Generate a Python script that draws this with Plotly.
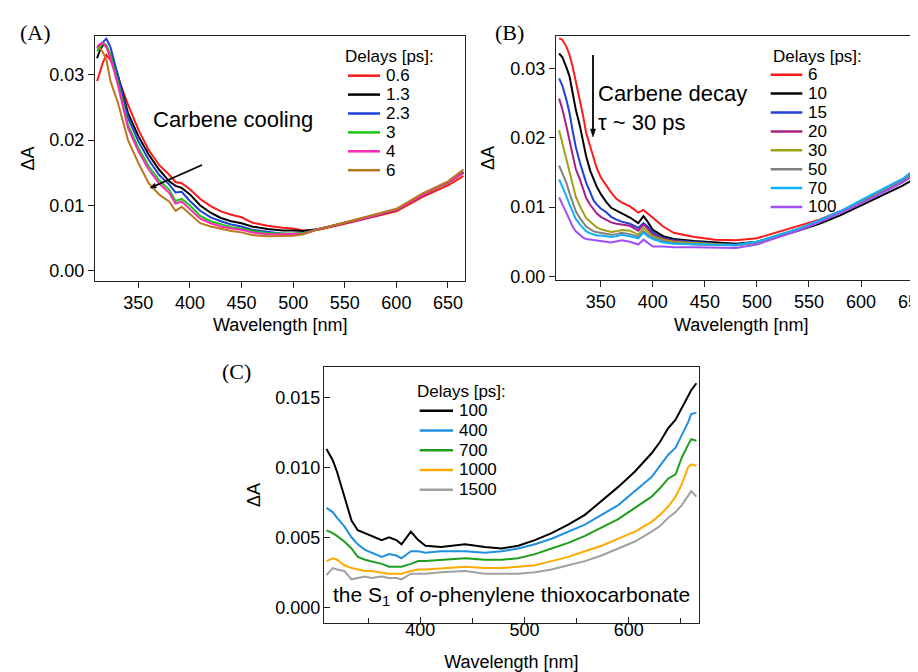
import math
import plotly.graph_objects as go

W, H = 918, 672
SANS = "Liberation Sans, Arial, sans-serif"
SERIF = "Liberation Serif, Times New Roman, serif"

# ---------------- Panel A data ----------------
wl_a = [310, 313, 316, 319, 323, 330, 340, 350, 360, 370, 380, 386, 392, 400, 410, 420,
        430, 440, 450, 460, 475, 490, 500, 510, 525, 550, 575, 600, 625, 640, 650, 665]
delays_a = ["0.6", "1.3", "2.3", "3", "4", "6"]
colors_a = ["#ff1a1a", "#000000", "#2040d8", "#14c814", "#ff28b4", "#b8781e"]
a_0p6 = [.0290, .0305, .0320, .0330, .0322, .0297, .0254, .0216, .0185, .0162, .0147, .0136, .0134, .0125, .0110, .0099,
         .0091, .0086, .0082, .0074, .0069, .0066, .0065, .0062, .0063, .0072, .0081, .0091, .0113, .0124, .0131, .0145]
a_1p3 = [.0325, .0338, .0346, .0343, .0330, .0300, .0241, .0206, .0178, .0155, .0137, .0130, .0127, .0117, .0100, .0089,
         .0081, .0076, .0073, .0068, .0064, .0062, .0062, .0061, .0064, .0073, .0083, .0094, .0116, .0128, .0135, .0151]
a_2p3 = [.0340, .0346, .0350, .0355, .0342, .0300, .0234, .0198, .0170, .0147, .0132, .0120, .0121, .0107, .0092, .0082,
         .0076, .0071, .0068, .0063, .0060, .0057, .0057, .0058, .0064, .0073, .0083, .0094, .0116, .0128, .0135, .0150]
a_3 = [.0336, .0343, .0348, .0345, .0330, .0290, .0223, .0188, .0160, .0139, .0124, .0107, .0110, .0100, .0084, .0076,
       .0071, .0067, .0065, .0061, .0058, .0057, .0057, .0058, .0064, .0073, .0083, .0094, .0116, .0128, .0135, .0150]
a_4 = [.0343, .0347, .0348, .0342, .0325, .0285, .0218, .0183, .0155, .0134, .0119, .0103, .0106, .0095, .0080, .0073,
       .0068, .0065, .0063, .0059, .0056, .0056, .0056, .0057, .0064, .0073, .0083, .0094, .0116, .0128, .0135, .0150]
a_6 = [.0342, .0340, .0333, .0323, .0290, .0258, .0200, .0165, .0134, .0117, .0106, .0092, .0098, .0087, .0073, .0068,
       .0064, .0061, .0059, .0055, .0053, .0053, .0054, .0056, .0064, .0074, .0084, .0095, .0118, .0130, .0137, .0155]
series_a = [a_0p6, a_1p3, a_2p3, a_3, a_4, a_6]

# ---------------- Panel B data ----------------
wl_b = [310, 313, 317, 320, 323, 326, 330, 333, 336, 340, 343, 346, 350, 355, 360, 365, 370, 378, 386, 391,
        395, 400, 410, 420, 440, 460, 480, 500, 520, 540, 560, 580, 600, 620, 640, 650, 662]
delays_b = ["6", "10", "15", "20", "30", "50", "70", "100"]
colors_b = ["#ff1a1a", "#000000", "#2040d8", "#a8207f", "#a0a014", "#808080", "#10b0f8", "#a050f0"]
b_6 = [.0344, .0342, .0332, .0320, .0303, .0282, .0255, .0232, .0207, .0187, .0170, .0157, .0143, .0131, .0121, .0112, .0107, .0101, .0092, .0096,
       .0091, .0084, .0072, .0063, .0057, .0053, .0052, .0055, .0064, .0072, .0082, .0094, .0108, .0123, .0139, .0150, .0160]
b_10 = [.0322, .0317, .0302, .0289, .0265, .0241, .0217, .0193, .0173, .0152, .0140, .0130, .0119, .0108, .0099, .0095, .0091, .0085, .0077, .0087,
        .0079, .0067, .0058, .0054, .0051, .0049, .0047, .0050, .0057, .0066, .0076, .0088, .0102, .0117, .0131, .0140, .0150]
b_15 = [.0286, .0276, .0255, .0236, .0210, .0187, .0164, .0148, .0135, .0121, .0110, .0104, .0098, .0093, .0086, .0082, .0079, .0076, .0070, .0077,
        .0072, .0063, .0055, .0052, .0049, .0047, .0046, .0050, .0058, .0068, .0079, .0092, .0106, .0121, .0136, .0146, .0160]
b_20 = [.0257, .0242, .0217, .0195, .0173, .0155, .0140, .0125, .0113, .0103, .0096, .0091, .0086, .0082, .0078, .0076, .0075, .0073, .0066, .0075,
        .0069, .0060, .0054, .0051, .0048, .0046, .0045, .0049, .0058, .0068, .0079, .0092, .0106, .0121, .0136, .0146, .0162]
b_30 = [.0211, .0193, .0169, .0150, .0130, .0115, .0101, .0092, .0084, .0079, .0075, .0071, .0068, .0066, .0064, .0065, .0067, .0066, .0060, .0070,
        .0064, .0058, .0053, .0050, .0048, .0046, .0045, .0050, .0059, .0069, .0080, .0093, .0108, .0123, .0139, .0150, .0165]
b_50 = [.0160, .0150, .0135, .0120, .0106, .0094, .0084, .0077, .0072, .0068, .0065, .0064, .0063, .0062, .0060, .0061, .0063, .0061, .0057, .0065,
        .0060, .0055, .0051, .0048, .0046, .0045, .0045, .0049, .0058, .0068, .0079, .0093, .0108, .0123, .0139, .0150, .0166]
b_70 = [.0140, .0130, .0116, .0104, .0092, .0083, .0075, .0070, .0065, .0062, .0060, .0059, .0059, .0058, .0057, .0058, .0060, .0058, .0055, .0063,
        .0058, .0054, .0049, .0047, .0046, .0045, .0045, .0050, .0059, .0069, .0081, .0094, .0110, .0125, .0141, .0153, .0169]
b_100 = [.0114, .0105, .0092, .0082, .0072, .0065, .0060, .0056, .0054, .0053, .0052, .0052, .0051, .0050, .0049, .0050, .0052, .0050, .0046, .0053,
         .0049, .0043, .0043, .0042, .0042, .0041, .0041, .0046, .0056, .0066, .0078, .0091, .0105, .0120, .0136, .0146, .0162]
series_b = [b_6, b_10, b_15, b_20, b_30, b_50, b_70, b_100]

# ---------------- Panel C data ----------------
wl_c = [310, 316, 320, 327, 334, 340, 347, 353, 363, 370, 377, 382, 391, 398, 405, 420, 443, 462,
        478, 494, 510, 526, 542, 558, 574, 590, 606, 622, 630, 638, 645, 651, 657, 660, 665]
delays_c = ["100", "400", "700", "1000", "1500"]
colors_c = ["#000000", "#1f8fe0", "#1e9e1e", "#ffaa00", "#a0a0a0"]
c_100 = [.0113, .0105, .0097, .0080, .0062, .0055, .0053, .0051, .0048, .0050, .0048, .0045, .0054, .0048, .0044, .0043, .0045, .0043,
         .0042, .0044, .0048, .0053, .0059, .0066, .0076, .0086, .0097, .0110, .0118, .0128, .0134, .0142, .0150, .0155, .0160]
c_400 = [.0071, .0068, .0064, .0058, .0050, .0045, .0041, .0039, .0036, .0038, .0037, .0035, .0040, .0040, .0039, .0040, .0040, .0039,
         .0040, .0042, .0045, .0049, .0054, .0059, .0066, .0073, .0083, .0093, .0101, .0109, .0114, .0123, .0132, .0138, .0139]
c_700 = [.0055, .0053, .0051, .0047, .0042, .0036, .0034, .0033, .0031, .0029, .0029, .0029, .0031, .0033, .0033, .0034, .0035, .0034,
         .0034, .0035, .0038, .0042, .0046, .0051, .0057, .0063, .0071, .0079, .0085, .0092, .0095, .0107, .0116, .0120, .0119]
c_1000 = [.0033, .0035, .0034, .0030, .0028, .0027, .0026, .0026, .0025, .0024, .0024, .0024, .0026, .0027, .0027, .0028, .0029, .0028,
          .0028, .0029, .0030, .0033, .0036, .0040, .0044, .0049, .0054, .0061, .0066, .0072, .0079, .0088, .0100, .0102, .0101]
c_1500 = [.0023, .0028, .0027, .0026, .0020, .0021, .0022, .0021, .0022, .0021, .0021, .0020, .0024, .0024, .0024, .0025, .0026, .0024,
          .0024, .0024, .0025, .0027, .0030, .0033, .0037, .0042, .0047, .0054, .0058, .0064, .0068, .0073, .0080, .0083, .0079]
series_c = [c_100, c_400, c_700, c_1000, c_1500]

x_title = "Wavelength [nm]"
y_title = "ΔA"


# ---------------- helpers ----------------
def px(x):
    return x / W


def py(y):
    return 1 - y / H


fig = go.Figure()

for vals, name, col in zip(series_a, delays_a, colors_a):
    fig.add_trace(go.Scatter(x=wl_a, y=vals, mode="lines", name=name, showlegend=False,
                             line=dict(color=col, width=2), xaxis="x", yaxis="y"))
for vals, name, col in zip(series_b, delays_b, colors_b):
    fig.add_trace(go.Scatter(x=wl_b, y=vals, mode="lines", name=name, showlegend=False,
                             line=dict(color=col, width=2), xaxis="x2", yaxis="y2"))
for vals, name, col in zip(series_c, delays_c, colors_c):
    fig.add_trace(go.Scatter(x=wl_c, y=vals, mode="lines", name=name, showlegend=False,
                             line=dict(color=col, width=2), xaxis="x3", yaxis="y3"))

AX = dict(showline=True, linecolor="#222222", linewidth=1.2, showgrid=False, zeroline=False,
          tickfont=dict(family=SANS, size=18, color="black"), ticklen=6, tickcolor="#222222",
          automargin=False, ticklabeloverflow="allow")
TITLEFONT = dict(family=SANS, size=18, color="black")

layout = dict(
    width=W, height=H, margin=dict(l=0, r=0, t=0, b=0),
    paper_bgcolor="white", plot_bgcolor="white", template="none",
    xaxis=dict(AX, domain=[px(87), px(457)], range=[308, 666.5], anchor="y", mirror=True,
               ticks="outside", tick0=350, dtick=50, ticklabelstandoff=-1),
    yaxis=dict(AX, domain=[py(273), py(28)], range=[-0.00153, 0.0359], anchor="x", mirror=True,
               ticks="outside", tick0=0, dtick=0.01, tickformat=".2f",
               title=dict(text=y_title, font=TITLEFONT, standoff=9)),
    xaxis2=dict(AX, domain=[px(548), 1.0], range=[307, 662.4], anchor="y2", mirror=True,
                ticks="outside", tick0=350, dtick=50, ticklabelstandoff=-1),
    yaxis2=dict(AX, domain=[py(272), py(28)], range=[-0.00053, 0.03473], anchor="x2", mirror=False,
                ticks="outside", tick0=0, dtick=0.01, tickformat=".2f",
                title=dict(text=y_title, font=TITLEFONT, standoff=10)),
    xaxis3=dict(AX, domain=[px(316), px(690.7)], range=[307.6, 667.2], anchor="y3", mirror=True,
                ticks="inside", tick0=400, dtick=100, ticklabelstandoff=-10,
                minor=dict(ticks="inside", ticklen=5, tick0=350, dtick=50, tickcolor="#222222"),
                title=dict(text=x_title, font=TITLEFONT, standoff=16)),
    yaxis3=dict(AX, domain=[py(615), py(359)], range=[-0.00112, 0.01716], anchor="x3", mirror=True,
                ticks="inside", tick0=0, dtick=0.005, tickformat=".3f", ticklabelstandoff=-1,
                title=dict(text=y_title, font=TITLEFONT, standoff=9)),
)
fig.update_layout(**layout)

annotations = []
shapes = []

# x-axis titles of panels A and B (placed precisely under the tick labels)
for cx in (272, 733):
    annotations.append(dict(text=x_title, x=px(cx), y=py(317), xref="paper", yref="paper",
                            xanchor="center", yanchor="middle", showarrow=False, font=TITLEFONT))

# panel labels
for lab, x, y in [("(A)", 10, 25), ("(B)", 485, 25), ("(C)", 212, 363)]:
    annotations.append(dict(text=lab, x=px(x), y=py(y), xref="paper", yref="paper",
                            xanchor="left", yanchor="middle", showarrow=False,
                            font=dict(family=SERIF, size=22, color="black")))

# legends (title, line keys and labels) built from the series lists
LEGFONT = dict(family=SANS, size=17, color="black")


def add_legend(labels, colors, title_x, title_y, x0, x1, xt, y_first, dy):
    annotations.append(dict(text="Delays [ps]:", x=px(title_x), y=py(title_y), xref="paper", yref="paper",
                            xanchor="left", yanchor="middle", showarrow=False, font=LEGFONT))
    for i, (lab, col) in enumerate(zip(labels, colors)):
        yy = y_first + i * dy
        shapes.append(dict(type="line", xref="paper", yref="paper", x0=px(x0), x1=px(x1),
                           y0=py(yy), y1=py(yy), line=dict(color=col, width=2.5)))
        annotations.append(dict(text=lab, x=px(xt), y=py(yy), xref="paper", yref="paper",
                                xanchor="left", yanchor="middle", showarrow=False, font=LEGFONT))


add_legend(delays_a, colors_a, 335, 49, 340, 372, 376, 67.7, 18.9)
add_legend(delays_b, colors_b, 763, 48.3, 762.7, 794.3, 798, 66.7, 18.9)
add_legend(delays_c, colors_c, 407, 383.3, 411.7, 445, 449, 402.7, 19.75)

BIG = dict(family=SANS, size=22, color="black")
annotations.append(dict(text="Carbene cooling", x=px(143), y=py(112), xref="paper", yref="paper",
                        xanchor="left", yanchor="middle", showarrow=False, font=BIG))
annotations.append(dict(text="Carbene decay<br>τ ~ 30 ps", x=px(588), y=py(100.5), xref="paper", yref="paper",
                        xanchor="left", yanchor="middle", align="left", showarrow=False, font=BIG))
annotations.append(dict(text="the S<sub>1</sub> of <i>o</i>-phenylene thioxocarbonate", x=px(323), y=py(588),
                        xref="paper", yref="paper", xanchor="left", yanchor="middle", showarrow=False,
                        font=dict(family=SANS, size=21, color="black")))


# arrows drawn as paper-space paths (line + small filled head)
def arrow(x0, y0, x1, y1, head=7.0, half=3.0):
    dx, dy = x1 - x0, y1 - y0
    L = math.hypot(dx, dy)
    ux, uy = dx / L, dy / L
    bx, by = x1 - ux * head, y1 - uy * head
    nx, ny = -uy, ux
    shapes.append(dict(type="line", xref="paper", yref="paper", x0=px(x0), y0=py(y0),
                       x1=px(bx + ux * 1), y1=py(by + uy * 1), line=dict(color="black", width=1.8)))
    path = "M {:.5f} {:.5f} L {:.5f} {:.5f} L {:.5f} {:.5f} Z".format(
        px(x1), py(y1), px(bx + nx * half), py(by + ny * half), px(bx - nx * half), py(by - ny * half))
    shapes.append(dict(type="path", xref="paper", yref="paper", path=path,
                       fillcolor="black", line=dict(color="black", width=0.5)))


arrow(194, 157, 142, 180, head=6, half=2.5)
arrow(585, 47, 585, 129, head=8, half=2.6)

fig.update_layout(annotations=annotations, shapes=shapes)
fig.write_html("out.html")
